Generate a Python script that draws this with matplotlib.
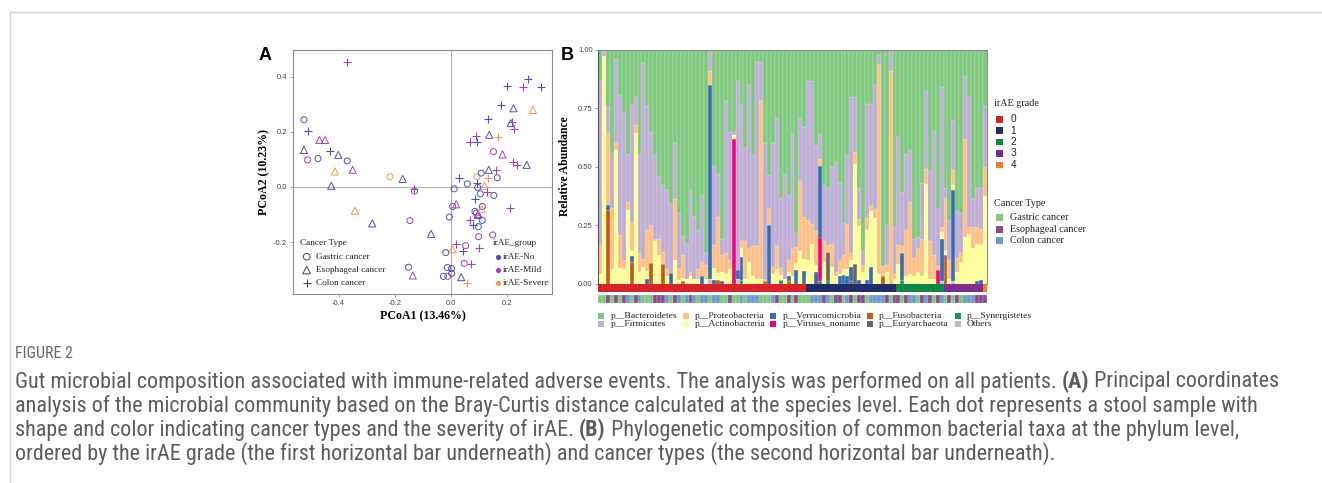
import numpy as np
import matplotlib
matplotlib.use('Agg')
import matplotlib.pyplot as plt
from matplotlib import font_manager as fm
from matplotlib.font_manager import FontProperties
from matplotlib.patches import Rectangle

W, H = 1322, 483
SERIF = 'Liberation Serif'
SANS = 'Liberation Sans'

# ---------------- panel A : PCoA ----------------
pc1 = [-0.371, -0.523, -0.508, -0.523, -0.510, -0.468, -0.448, -0.473, -0.430, -0.401,
       -0.369, -0.413, -0.350, -0.426, -0.342, -0.217, -0.172, -0.130, -0.130, -0.280,
       -0.146, -0.071, -0.151, -0.136, -0.019, -0.013, 0.002, 0.002, -0.027, -0.012,
       0.036, 0.058, 0.005, 0.017, 0.044, 0.052, 0.047, 0.070, 0.101, 0.098,
       0.148, -0.006, 0.006, 0.018, 0.011, 0.028, 0.058, 0.085, 0.085, 0.089,
       0.095, 0.097, 0.068, 0.079, 0.097, 0.111, 0.111, 0.109, 0.104, 0.095,
       0.094, 0.092, 0.107, 0.133, 0.119, 0.129, 0.152, 0.164, 0.134, 0.160,
       0.151, 0.183, 0.167, 0.136, 0.132, 0.068, 0.089, 0.091, 0.177, 0.198,
       0.273, 0.257, 0.319, 0.291, 0.222, 0.212, 0.216, 0.225, 0.222, 0.234,
       0.269, 0.211, 0.221]
pc2 = [0.454, 0.243, 0.203, 0.134, 0.098, 0.170, 0.170, 0.103, 0.131, 0.116,
       0.094, 0.056, 0.062, 0.004, -0.086, 0.037, 0.029, -0.007, -0.015, -0.132,
       -0.122, -0.170, -0.291, -0.321, -0.238, -0.292, -0.296, -0.313, -0.324, -0.324,
       -0.327, -0.347, -0.226, -0.207, -0.231, -0.213, -0.277, -0.279, -0.222, -0.180,
       -0.174, -0.109, -0.071, -0.063, -0.007, 0.031, 0.011, -0.045, -0.089, -0.095,
       -0.102, -0.098, -0.120, -0.138, -0.144, -0.121, -0.071, -0.081, -0.025, -0.002,
       0.013, 0.037, 0.050, 0.031, 0.004, -0.017, -0.031, 0.033, 0.062, 0.062,
       0.128, 0.118, 0.182, 0.189, 0.245, 0.164, 0.186, 0.161, 0.296, 0.364,
       0.390, 0.361, 0.361, 0.279, 0.285, 0.231, 0.237, 0.210, 0.089, 0.080,
       0.080, -0.077, -0.089]
pc_cancer = list("CGCEGEEGCEGEEEEGECGEGEGEGGGGGGECECCGGCCGGGGEGCGCGGEECCGGGEGGCGGCECGGECGECECCCCCCCCCEEECCCCEC")
pc_group = list("MNNNMMMNNNNSMNSSNMMNMNNMNNNNNMNSSMNMMMMMMNNMNNNNNMNMMNNNNSNNNSNSSMNNNMMMSNNMMNNNNMNSNNMMMMNMN")

# ---------------- panel B : stacked bars ----------------
n_bar = 99
actino = [.04, .975, 0, .06, .571, .066, .06, .316, .023, .644,
          .05, .07, .035, 0, .18, .12, 0, .03, 0, .10,
          .015, .01, .02, .03, .02, .02, 0, .02, 0, .05,
          .03, .04, .04, .06, .017, 0, .035, .02, .09, .03,
          .02, .02, 0, 0, .04, .06, .02, .02, .02, .03,
          .03, .14, .05, .10, .17, .03, 0, .09, 0, .07,
          .03, .01, .025, .03, .03, .43, .23, .05, .215, .24,
          .28, .04, 0, .05, 0, .02, .083, 0, .03, .04,
          .03, .05, .03, .426, .02, .02, 0, .03, .02, .02,
          .02, .05, .09, .20, .21, .15, .16, .15, .375]
proteo = [.125, 0, .307, .265, .03, .14, .04, .031, .124, .033,
          .08, .035, .175, .163, .01, .07, .05, .03, 0, .26,
          .045, .10, 0, .02, 0, .04, .06, .06, .06, .10,
          .24, .07, .09, .04, 0, 0, .03, .16, .06, .13,
          .14, .76, .01, .07, .03, .10, .03, 0, .05, .12,
          .07, .30, .18, .17, .084, .146, .029, .09, .03, .10,
          .02, .06, .06, .19, .03, .05, .03, .03, .05, .02,
          .04, .90, .043, .03, .91, .02, .08, .03, .20, .31,
          .08, .10, .16, .064, .16, .10, .02, .02, .226, .08,
          .066, .06, .04, .42, .03, .09, .07, .07, .125]
firmic = [.705, .02, .113, .232, .36, .6, .63, .207, .505, .12,
          .42, .84, .53, .40, .36, .27, .29, .34, .295, .24,
          .24, .08, .15, .35, .27, .17, .29, .05, .09, .34,
          .185, .07, .65, .55, .013, .81, .59, .40, .70, .39,
          .79, .17, .58, .145, .53, .55, .30, .45, .28, .49,
          .06, .27, .385, .596, .612, .364, .107, .24, .243, .33,
          .47, .33, .14, .30, .67, .237, .135, .06, .49, .438,
          .53, .04, 0, .17, .09, .20, .463, .23, .324, .22,
          .08, .05, .24, .336, .30, .534, .24, .60, .044, .17,
          .214, .20, .17, .27, .56, .12, .17, .175, .26]
# minor phyla, {bar number: abundance}
fuso = {3: .316, 9: .093, 14: .087, 17: .083, 22: .012, 31: .015, 43: .01, 49: .01, 73: .033, 89: .12}
verru = {3: .021, 9: .024, 13: .02, 19: .045, 27: .03, 29: .83, 30: .015, 32: .01, 36: .037, 37: .10,
         44: .25, 49: .02, 51: .057, 53: .055, 56: .05, 57: .307, 62: .03, 63: .035, 64: .03, 65: .06,
         67: .015, 69: .015, 70: .072, 78: .115, 88: .18, 91: .39, 97: .01, 98: .015}
virus = {35: .62, 57: .187, 87: .057}
eury = {59: .127, 65: .01, 66: .083}
synerg = {37: .015, 47: .015, 57: .01, 59: .01, 78: .015}
others = {29: .02, 36: .02, 88: .01, 91: .01}

grade_counts = [53, 23, 12, 10, 1]
grade_labels = ['0', '1', '2', '3', '4']
bar_cancer = list("GGEGEGECGECGGGEEECGECGCEC" "GCCGCCGGEGGCGCCCGGGCEGGEG"
                  "EGGGCCCECGEEGCEGEEGCCCCEG" "EEGECCGECEGECGEGEGCCCEEE")

phyla = ['Bacteroidetes', 'Firmicutes', 'Proteobacteria', 'Actinobacteria', 'Verrucomicrobia',
         'Viruses_noname', 'Fusobacteria', 'Euryarchaeota', 'Synergistetes', 'Others']
phy_col = {'Bacteroidetes': '#7FC97F', 'Firmicutes': '#BEAED4', 'Proteobacteria': '#FDC086',
           'Actinobacteria': '#FFFF99', 'Verrucomicrobia': '#386CB0', 'Viruses_noname': '#F0027F',
           'Fusobacteria': '#BF5B17', 'Euryarchaeota': '#666666', 'Synergistetes': '#12966C',
           'Others': '#B9BFBF'}
grade_col = ['#DA2229', '#222C69', '#0C8944', '#7E2C90', '#F17E22']
ctype_col = {'G': '#7EC87C', 'E': '#8A4A8F', 'C': '#6A9AD0'}
grp_col = {'N': '#4A52C2', 'M': '#A043B8', 'S': '#F5964E'}
ctype_mark = {'G': 'o', 'E': '^', 'C': '+'}
ctype_size = {'G': 19, 'E': 26, 'C': 36}


def dense(d):
    v = np.zeros(n_bar)
    for k, val in d.items():
        v[k - 1] = val
    return v


vals = {'Others': dense(others), 'Synergistetes': dense(synerg), 'Euryarchaeota': dense(eury),
        'Fusobacteria': dense(fuso), 'Viruses_noname': dense(virus), 'Verrucomicrobia': dense(verru),
        'Actinobacteria': np.array(actino), 'Proteobacteria': np.array(proteo),
        'Firmicutes': np.array(firmic)}
vals['Bacteroidetes'] = 1 - sum(vals.values())


# condensed sans for the caption, if one is installed
def find_condensed(bold):
    pref = ['Liberation Sans Narrow', 'Roboto Condensed', 'Open Sans Condensed', 'DejaVu Sans',
            'Noto Sans', 'Roboto', 'Open Sans', 'Lato', 'Inter', 'Liberation Sans']
    hits = []
    for f in fm.fontManager.ttflist:
        fn = f.fname.lower()
        if f.style != 'normal':
            continue
        if not ('condensed' in fn or 'narrow' in fn or 'condensed' in str(f.stretch)):
            continue
        if 'semi' in fn or 'extra' in fn or 'ultra' in fn or 'mono' in fn:
            continue
        w = f.weight if isinstance(f.weight, int) else fm.weight_dict.get(f.weight, 400)
        if (w >= 600) != bold or (not bold and w < 350):
            continue
        rank = pref.index(f.name) if f.name in pref else len(pref)
        hits.append((rank, f.fname))
    hits.sort()
    return hits[0][1] if hits else None


cond_reg = find_condensed(False)
cond_bold = find_condensed(True)


def cap_font(size, weight):
    path = cond_bold if weight == 'bold' else cond_reg
    if path:
        return FontProperties(fname=path, size=size)
    return FontProperties(family=SANS, size=size, weight=weight)


fig = plt.figure(figsize=(W / 100, H / 100), dpi=100)


def box(l, t, r, b):
    return [l / W, 1 - b / H, (r - l) / W, (b - t) / H]


# PCoA
ax = fig.add_axes(box(292.7, 50.3, 552.3, 294))
ax.axhline(0, color='#b0b0b0', lw=0.8, zorder=0)
ax.axvline(0, color='#b0b0b0', lw=0.8, zorder=0)
for xv, yv, c, g in zip(pc1, pc2, pc_cancer, pc_group):
    if c == 'C':
        ax.scatter(xv, yv, marker='+', s=ctype_size[c], c=grp_col[g], linewidths=0.8)
    else:
        ax.scatter(xv, yv, marker=ctype_mark[c], s=ctype_size[c], facecolors='none',
                   edgecolors=grp_col[g], linewidths=0.7)
ax.set_xlim(-0.563, 0.360)
ax.set_ylim(-0.388, 0.495)
ax.set_xticks([-0.4, -0.2, 0.0, 0.2])
ax.set_yticks([-0.2, 0.0, 0.2, 0.4])
ax.xaxis.set_major_formatter(matplotlib.ticker.FormatStrFormatter('%.1f'))
ax.yaxis.set_major_formatter(matplotlib.ticker.FormatStrFormatter('%.1f'))
ax.tick_params(length=2, width=0.6, color='#888888', labelsize=5.5, labelcolor='#444444', pad=2)
for lab in ax.get_xticklabels() + ax.get_yticklabels():
    lab.set_family(SANS)
for sp in ax.spines.values():
    sp.set_color('#8c8c8c')
    sp.set_linewidth(0.8)

# bars
axb = fig.add_axes(box(598.3, 50, 986.7, 283.5))
xs = np.arange(n_bar)
bottom = np.zeros(n_bar)
for p in phyla[::-1]:
    axb.bar(xs, vals[p], bottom=bottom, width=1.0, color=phy_col[p],
            edgecolor=(1, 1, 1, 0.45), linewidth=0.3)
    bottom += vals[p]
axb.set_xlim(-0.5, n_bar - 0.5)
axb.set_ylim(0, 1)
axb.set_xticks([])
axb.set_yticks([0, 0.25, 0.5, 0.75, 1.0])
axb.set_yticklabels(['0.00', '0.25', '0.50', '0.75', '1.00'])
axb.tick_params(length=2, width=0.6, color='#888888', labelsize=5.5, labelcolor='#444444', pad=2)
for lab in axb.get_yticklabels():
    lab.set_family(SANS)
for sp in axb.spines.values():
    sp.set_color('#8c8c8c')
    sp.set_linewidth(0.8)
axb.spines['left'].set_color('#555555')

# annotation strips
axg = fig.add_axes(box(598.3, 284.4, 986.7, 292.4))
grades = np.repeat(np.arange(5), grade_counts)
axg.bar(xs, np.ones(n_bar), width=1.0, color=[grade_col[g] for g in grades], linewidth=0)
axc = fig.add_axes(box(598.3, 294.5, 986.7, 303))
axc.bar(xs, np.ones(n_bar), width=1.0, color=[ctype_col[c] for c in bar_cancer],
        edgecolor=(1, 1, 1, 0.45), linewidth=0.3)
for a in (axg, axc):
    a.set_xlim(-0.5, n_bar - 0.5)
    a.set_ylim(0, 1)
    a.axis('off')

# overlay in pixel coordinates for text and legends
ov = fig.add_axes([0, 0, 1, 1], zorder=10)
ov.set_xlim(0, W)
ov.set_ylim(H, 0)
ov.axis('off')
ov.patch.set_alpha(0)

ov.plot([9.5, W], [12, 12], color='#d2d2d2', lw=1)
ov.plot([9.5, 9.5], [12, H], color='#d2d2d2', lw=1)

ov.text(265.5, 55.5, 'A', fontsize=13, fontweight='bold', family=SANS, ha='center', va='center')
ov.text(567.5, 55.5, 'B', fontsize=13, fontweight='bold', family=SANS, ha='center', va='center')
ov.text(422.5, 316.5, 'PCoA1 (13.46%)', fontsize=8.6, fontweight='bold', family=SERIF,
        ha='center', va='center')
ov.text(264.5, 172, 'PCoA2 (10.23%)', fontsize=8.6, fontweight='bold', family=SERIF,
        ha='center', va='center', rotation=90)
ov.text(565, 166, 'Relative Abundance', fontsize=8.4, fontweight='bold', family=SERIF,
        ha='center', va='center', rotation=90)

# PCoA legends
lf = dict(fontsize=6.7, family=SERIF, va='center', ha='left', color='#222222')
ov.text(300, 243.3, 'Cancer Type', **lf)
rows = [256.7, 270, 282.7]
for yv, c, name in zip(rows, ['G', 'E', 'C'], ['Gastric cancer', 'Esophageal cancer', 'Colon cancer']):
    if c == 'C':
        ov.scatter(306.7, yv, marker='+', s=36, c='#444444', linewidths=0.8)
    else:
        ov.scatter(306.7, yv, marker=ctype_mark[c], s=ctype_size[c] + 4, facecolors='none',
                   edgecolors='#444444', linewidths=0.7)
    ov.text(316, yv, name, **lf)
ov.text(492.7, 243.3, 'irAE_group', **lf)
for yv, g, name in zip(rows, ['N', 'M', 'S'], ['irAE-No', 'irAE-Mild', 'irAE-Severe']):
    ov.scatter(498.3, yv, marker='o', s=14, c=grp_col[g], linewidths=0)
    ov.text(503.3, yv, name, **lf)

# right legends
rf = dict(fontsize=7.3, family=SERIF, va='center', ha='left', color='#222222')
ov.text(994, 103.3, 'irAE grade', **rf)
for i, yv in enumerate([119.3, 130.7, 142, 153.3, 165]):
    ov.add_patch(Rectangle((996, yv - 3.4), 6.8, 6.8, color=grade_col[i], lw=0))
    ov.text(1010.7, yv, grade_labels[i], fontsize=7.3, family=SANS, va='center', ha='left', color='#222222')
ov.text(994, 203.3, 'Cancer Type', **rf)
for yv, c, name in zip([217.7, 229.3, 240.7], ['G', 'E', 'C'],
                       ['Gastric cancer', 'Esophageal cancer', 'Colon cancer']):
    ov.add_patch(Rectangle((996, yv - 3.4), 6.8, 6.8, color=ctype_col[c], lw=0))
    ov.text(1010, yv, name, **rf)

# phylum legend
sq_x = [598.3, 683.3, 770, 866.7, 955]
tx_x = [610.7, 694.3, 782.3, 878.7, 966.7]
for i, p in enumerate(phyla):
    col, row = i // 2, i % 2
    yv = [315.7, 324.3][row]
    ov.add_patch(Rectangle((sq_x[col], yv - 2.9), 5.8, 5.8, color=phy_col[p], lw=0))
    lab = p if p == 'Others' else 'p__' + p
    ov.text(tx_x[col], yv, lab, fontsize=6.8, family=SERIF, va='center', ha='left', color='#222222')

# caption
cap_lines = [
    [('Gut microbial composition associated with immune-related adverse events. The analysis was performed on all patients. ', 'normal'),
     ('(A)', 'bold'), (' Principal coordinates', 'normal')],
    [('analysis of the microbial community based on the Bray-Curtis distance calculated at the species level. Each dot represents a stool sample with', 'normal')],
    [('shape and color indicating cancer types and the severity of irAE. ', 'normal'), ('(B)', 'bold'),
     (' Phylogenetic composition of common bacterial taxa at the phylum level,', 'normal')],
    [('ordered by the irAE grade (the first horizontal bar underneath) and cancer types (the second horizontal bar underneath).', 'normal')],
]
renderer = fig.canvas.get_renderer()


def text_w(s, size, weight):
    t = ov.text(0, 0, s + '|', fontproperties=cap_font(size, weight))
    t2 = ov.text(0, 0, '|', fontproperties=cap_font(size, weight))
    w = t.get_window_extent(renderer).width - t2.get_window_extent(renderer).width
    t.remove()
    t2.remove()
    return w


w1 = sum(text_w(s, 10, wt) for s, wt in cap_lines[0])
cap_size = 10 * 1258 / w1
if not cond_reg:
    cap_size *= 0.97
fig_w = text_w('FIGURE 2', 10, 'normal')
ov.text(15, 354, 'FIGURE 2', fontproperties=cap_font(10 * 58 / fig_w, 'normal'), color='#666666',
        va='center', ha='left')
for line, yv in zip(cap_lines, [382, 406, 430, 454]):
    x0 = 15
    for s, wt in line:
        ov.text(x0, yv, s, fontproperties=cap_font(cap_size, wt), color='#5c5c5c',
                va='center', ha='left')
        x0 += text_w(s, cap_size, wt)

fig.savefig('out.png', dpi=100)
